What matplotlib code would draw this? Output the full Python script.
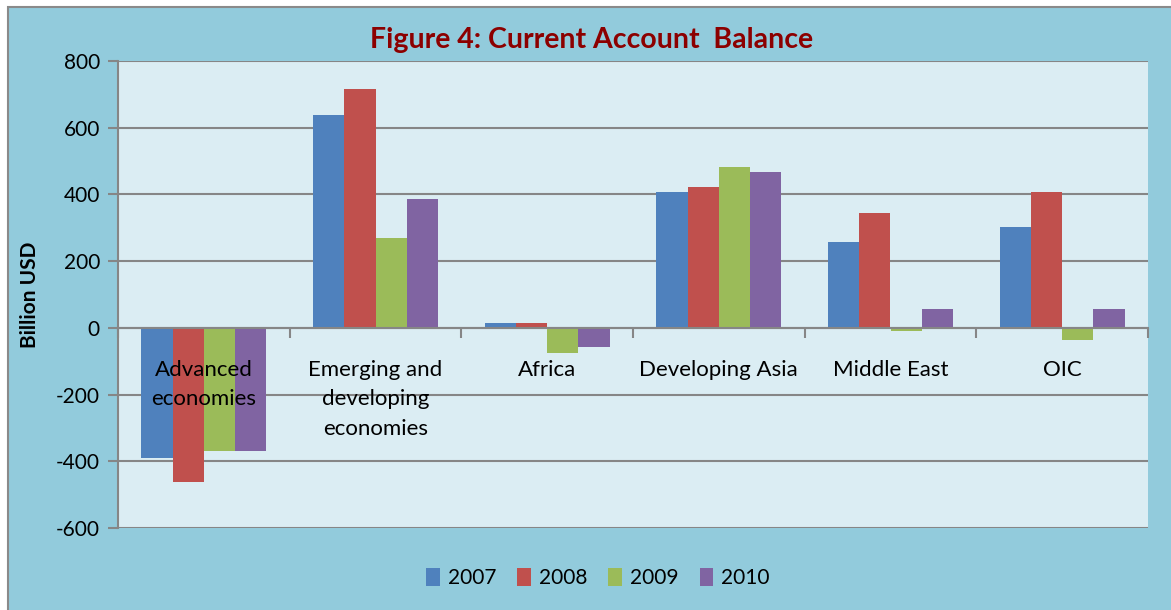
import matplotlib
matplotlib.use("Agg")
import matplotlib.pyplot as plt
from matplotlib.patches import Rectangle
import numpy as np

plt.rcParams['font.family'] = ['Lato', 'DejaVu Sans']
plt.rcParams['axes.unicode_minus'] = False

# %% data (billion USD)
regions = ["Advanced\neconomies", "Emerging and\ndeveloping\neconomies", "Africa",
           "Developing Asia", "Middle East", "OIC"]
years = ["2007", "2008", "2009", "2010"]
ca_2007 = [-390, 639, 15, 406, 257, 301]
ca_2008 = [-463, 715, 14, 423, 345, 406]
ca_2009 = [-370, 269, -74, 483, -10, -37]
ca_2010 = [-370, 386, -58, 467, 57, 57]
yticks = [-600, -400, -200, 0, 200, 400, 600, 800]

colors = ["#4F81BD", "#C0504D", "#9BBB59", "#8064A2"]
bg_out = "#92CBDC"
bg_in = "#DBEDF3"
grid_c = "#868686"

W, H = 1171, 610
fig = plt.figure(figsize=(W / 100, H / 100), dpi=100, facecolor="white")

# outer chart frame
fig.patches.append(Rectangle((8 / W, -0.01), 1.0, (H - 7) / H + 0.01, transform=fig.transFigure,
                             facecolor=bg_out, edgecolor="#8A8A8A", lw=1.5, zorder=0))

ax = fig.add_axes([118 / W, (H - 528) / H, (1148 - 118) / W, (528 - 61) / H])
ax.set_zorder(1)
ax.set_facecolor(bg_in)

x = np.arange(len(regions))
bw = 0.182
for i, (vals, yr) in enumerate(zip([ca_2007, ca_2008, ca_2009, ca_2010], years)):
    ax.bar(x + (i - 1.5) * bw, vals, bw, color=colors[i], label=yr, zorder=2)

ax.set_xlim(-0.5, len(regions) - 0.5)
ax.set_ylim(-600, 800)
ax.set_yticks(yticks)
ax.tick_params(axis="y", labelsize=15, length=7, width=1.5, color=grid_c, pad=6)
ax.yaxis.grid(True, color=grid_c, lw=1.5)
ax.set_axisbelow(True)

for s in ["top", "right"]:
    ax.spines[s].set_visible(False)
ax.spines["left"].set_color(grid_c)
ax.spines["left"].set_linewidth(1.5)
ax.spines["bottom"].set_position(("data", 0))
ax.spines["bottom"].set_color(grid_c)
ax.spines["bottom"].set_linewidth(1.5)
ax.spines["bottom"].set_zorder(3)

ax.set_xticks([])
ax.set_xticks(np.arange(len(regions) + 1) - 0.5, minor=True)
ax.tick_params(axis="x", which="minor", length=7, width=1.5, color=grid_c, direction="out")

# category labels sit just under the zero line, over the bars
for xi, lab in zip(x, regions):
    ax.annotate(lab, (xi, 0), xytext=(0, -23), textcoords="offset points",
                ha="center", va="top", fontsize=16, linespacing=1.6, zorder=5)

fig.text(592 / W, (H - 40) / H, "Figure 4: Current Account  Balance", ha="center", va="center",
         fontsize=20.5, fontweight="bold", color="#8C0000")
fig.text(30 / W, (H - 295) / H, "Billion USD", rotation=90, ha="center", va="center",
         fontsize=15, fontweight="bold")

fig.legend(loc="center", bbox_to_anchor=(598 / W, (H - 578) / H), ncol=4, frameon=False,
           fontsize=15, handlelength=0.65, handleheight=1.0, handletextpad=0.4, columnspacing=1.0)

fig.savefig("out.png", dpi=100, facecolor=fig.get_facecolor())
